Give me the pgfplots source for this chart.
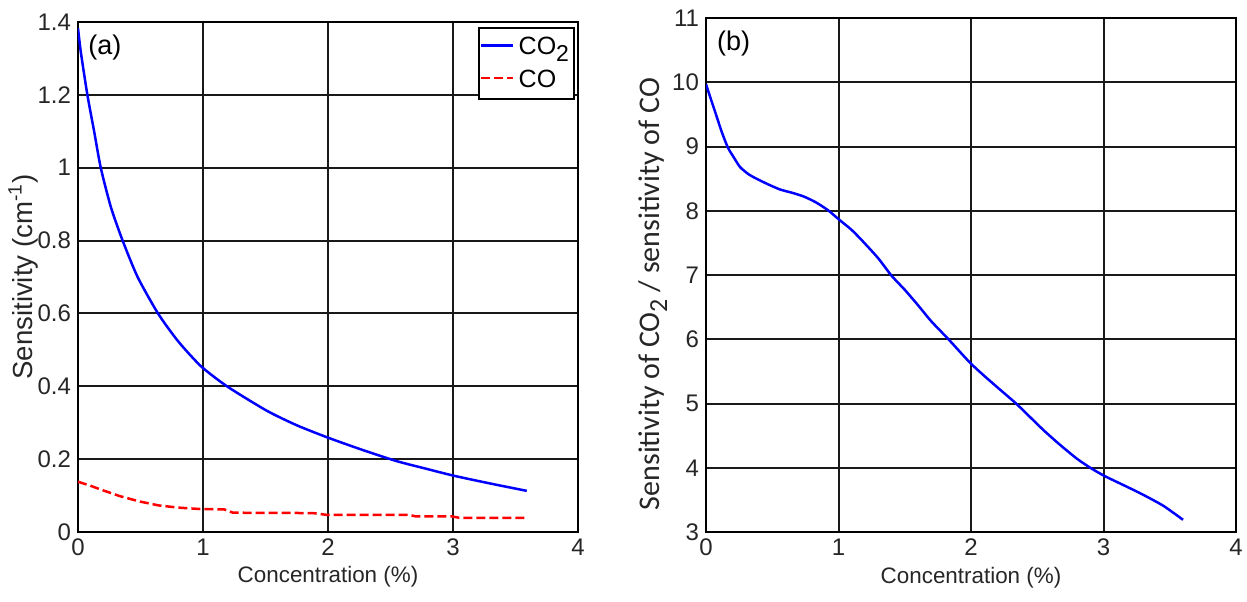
\documentclass[border=0pt]{standalone}
\usepackage{pgfplots}
\pgfplotsset{compat=1.18}
\usepackage{fontspec}
\setmainfont{Liberation Sans}
\newfontfamily\calibri{Carlito}
\begin{document}
\begin{tikzpicture}
\useasboundingbox (0pt,0pt) rectangle (623.5pt,300.5pt);
\pgfplotsset{
  myaxis/.style={
    scale only axis,
    xmin=0, xmax=4,
    xtick={0,1,2,3,4},
    grid=major,
    major grid style={black!90, line width=1pt},
    axis line style={black, line width=1pt},
    tick align=inside,
    major tick length=0pt,
    tick style={black},
    /pgf/number format/assume math mode=true,
    ticklabel style={font=\fontsize{12}{13}\selectfont, text=black!85},
    label style={font=\fontsize{11.2}{13}\selectfont, text=black!85},
    xlabel style={at={(axis description cs:0.5,-0.088)}, anchor=center},
  }
}
\begin{axis}[myaxis,
  at={(39pt,34.5pt)}, anchor=south west,
  width=250pt, height=255pt,
  ymin=0, ymax=1.4,
  ytick={0,0.2,0.4,0.6,0.8,1,1.2,1.4},
  yticklabels={0,0.2,0.4,0.6,0.8,1,1.2,1.4},
  xlabel={Concentration (\%)},
  ylabel={{\fontsize{13.8}{15}\selectfont Sensitivity (cm\textsuperscript{-1})}},
  ylabel style={at={(axis description cs:-0.11,0.5)}, anchor=center, rotate=0},
  legend style={at={(axis description cs:0.994,0.99)}, anchor=north east,
    draw=black, line width=1pt, fill=white, font=\fontsize{12.5}{14}\selectfont,
    inner xsep=0.5pt, inner ysep=2.5pt, row sep=2pt, cells={anchor=west}},
  legend cell align=left,
  legend image code/.code={\draw[#1] (0pt,1pt) -- (16pt,1pt);},
]
\addplot[blue, line width=1.25pt, smooth, tension=0.4] coordinates {
(0,1.383) (0.022,1.319) (0.075,1.2) (0.129,1.10) (0.182,1.0) (0.263,0.892) (0.357,0.8)
(0.477,0.7) (0.64,0.6) (0.8,0.524) (0.984,0.455) (1.196,0.399) (1.51,0.333) (1.75,0.293)
(2.0,0.259) (2.27,0.226) (2.545,0.195) (2.77,0.175) (3.0,0.155) (3.3,0.133) (3.59,0.113)
};
\addlegendentry{CO\raisebox{-0.55ex}{\fontsize{11.5}{12}\selectfont 2}}
\addplot[red, line width=1.25pt, dash pattern=on 4.5pt off 2pt] coordinates {
(0,0.138) (0.1,0.127) (0.17,0.118) (0.33,0.099) (0.49,0.084) (0.645,0.073) (0.8,0.067)
(0.98,0.063) (1.17,0.062) (1.24,0.053) (1.88,0.052) (1.99,0.047) (2.65,0.047) (2.70,0.043)
(2.99,0.043) (3.05,0.039) (3.6,0.039)
};
\addlegendentry{CO}
\node[anchor=north west, font=\fontsize{13.5}{15}\selectfont, inner sep=0pt] at (axis description cs:0.02,0.975) {(a)};
\end{axis}
\begin{axis}[myaxis,
  at={(353pt,34.5pt)}, anchor=south west,
  width=265pt, height=257pt,
  ymin=3, ymax=11,
  ytick={3,4,5,6,7,8,9,10,11},
  xlabel={Concentration (\%)},
  ylabel={{\calibri\fontsize{15}{16}\selectfont Sensitivity of CO\raisebox{-0.5ex}{\fontsize{13}{14}\selectfont 2} / sensitivity of CO}},
  ylabel style={at={(axis description cs:-0.1,0.463)}, anchor=center, rotate=0},
]
\addplot[blue, line width=1.25pt, smooth, tension=0.4] coordinates {
(0,9.97) (0.03,9.78) (0.075,9.5) (0.12,9.22) (0.166,8.98) (0.21,8.83) (0.257,8.68) (0.32,8.57) (0.38,8.5)
(0.47,8.41) (0.56,8.33) (0.65,8.28) (0.74,8.22) (0.83,8.13) (0.92,8.01) (1.0,7.87) (1.1,7.7)
(1.19,7.51) (1.3,7.26) (1.4,6.99) (1.5,6.77) (1.6,6.53) (1.7,6.28) (1.83,6.0) (1.99,5.64)
(2.1,5.43) (2.2,5.25) (2.34,5.0) (2.45,4.78) (2.55,4.58) (2.67,4.36) (2.8,4.14) (2.9,4.0)
(3.0,3.88) (3.1,3.78) (3.28,3.6) (3.45,3.41) (3.6,3.19)
};
\node[anchor=north west, font=\fontsize{13.5}{15}\selectfont, inner sep=0pt] at (axis description cs:0.02,0.975) {(b)};
\end{axis}
\end{tikzpicture}
\end{document}
